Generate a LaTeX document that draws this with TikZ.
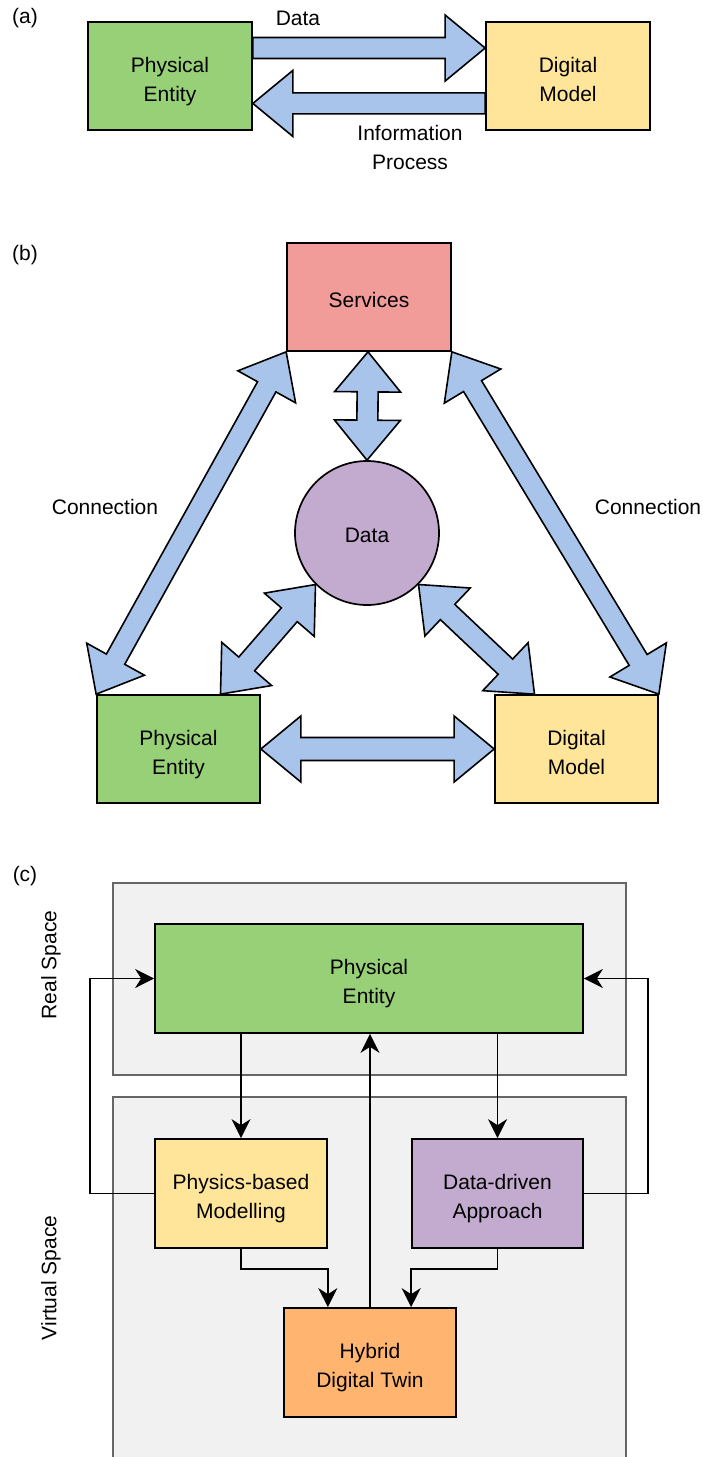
\documentclass[tikz,border=0pt]{standalone}
\usepackage{fontspec}
\setmainfont{Liberation Sans}
\usetikzlibrary{calc,arrows.meta}
\definecolor{cgreen}{HTML}{97D077}
\definecolor{cyellow}{HTML}{FFE599}
\definecolor{cred}{HTML}{F19C99}
\definecolor{cpurple}{HTML}{C3ABD0}
\definecolor{corange}{HTML}{FFB570}
\definecolor{cblue}{HTML}{A9C4EB}
\definecolor{cgrayfill}{HTML}{F1F1F1}
\definecolor{cgrayline}{HTML}{666666}
\tikzset{
  txt/.style={inner sep=0pt, align=center, font=\fontsize{21}{29}\selectfont},
  box/.style={draw=black, line width=1.7pt, inner sep=0pt},
  boxtext/.style={label={[txt, yshift=-5.5pt]center:{#1\vphantom{y}}}},
  boxtextone/.style={label={[txt, yshift=-2.5pt]center:{#1}}},
  barrow/.style={draw=black, fill=cblue, line width=1.6pt, line join=miter},
  conn/.style={draw=black, line width=1.8pt, -{Stealth[length=19pt,width=19pt,inset=6pt]}},
  area/.style={draw=cgrayline, fill=cgrayfill, line width=1.6pt},
}
% single block arrow: #1 tail, #2 tip, #3 shaft half width, #4 head half width
\newcommand{\sblockarrow}[4]{%
  \coordinate (tB) at ($(#2)!40pt!(#1)$);
  \draw[barrow] ($(#1)!#3!90:(#2)$) -- ($(tB)!#3!-90:(#1)$) -- ($(tB)!#4!-90:(#1)$) -- (#2)
    -- ($(tB)!#4!90:(#1)$) -- ($(tB)!#3!90:(#1)$) -- ($(#1)!#3!-90:(#2)$) -- cycle;}
% double block arrow
\newcommand{\dblockarrow}[4]{%
  \coordinate (tA) at ($(#1)!40pt!(#2)$);
  \coordinate (tB) at ($(#2)!40pt!(#1)$);
  \draw[barrow] (#1) -- ($(tA)!#4!90:(#2)$) -- ($(tA)!#3!90:(#2)$) -- ($(tB)!#3!-90:(#1)$)
    -- ($(tB)!#4!-90:(#1)$) -- (#2) -- ($(tB)!#4!90:(#1)$) -- ($(tB)!#3!90:(#1)$)
    -- ($(tA)!#3!-90:(#2)$) -- ($(tA)!#4!-90:(#2)$) -- cycle;}
\begin{document}
\begin{tikzpicture}[x=1pt,y=-1pt]
\useasboundingbox (0,0) rectangle (702,1457);
\clip (0,0) rectangle (702,1457);
\fill[white] (0,0) rectangle (702,1457);

% ---------------- (a)
\node[txt] (la) at (25,18) {(a)};
\node[box, fill=cgreen, minimum width=164pt, minimum height=108pt, boxtext={Physical\\Entity}] (pea) at (170,76) {};
\node[box, fill=cyellow, minimum width=164pt, minimum height=108pt, boxtext={Digital\\Model}] (dma) at (568,76) {};
\coordinate (a1) at ($(pea.north east)!0.245!(pea.south east)$);
\coordinate (a2) at ($(dma.north west)!0.245!(dma.south west)$);
\coordinate (a3) at ($(dma.north west)!0.75!(dma.south west)$);
\coordinate (a4) at ($(pea.north east)!0.75!(pea.south east)$);
\sblockarrow{a1}{a2}{10.5pt}{33pt}
\sblockarrow{a3}{a4}{10.5pt}{33pt}
\node[txt] (ldata) at (298,18) {Data};
\node[txt] (linfo) at (410,147) {Information\\Process};

% ---------------- (b)
\node[txt] (lb) at (25,255) {(b)};
\node[box, fill=cred, minimum width=164pt, minimum height=108pt, boxtextone={Services}] (serv) at (369,297) {};
\node[box, fill=cpurple, circle, minimum size=144pt, boxtextone={Data}] (data) at (367,533) {};
\node[box, fill=cgreen, minimum width=163pt, minimum height=108pt, boxtext={Physical\\Entity}] (peb) at (178.5,749) {};
\node[box, fill=cyellow, minimum width=163pt, minimum height=108pt, boxtext={Digital\\Model}] (dmb) at (576.5,749) {};
\coordinate (b1) at ($(serv.south)+(-1,0)$);
\dblockarrow{b1}{data.north}{10.5pt}{33pt}
\dblockarrow{serv.south west}{peb.north west}{10.5pt}{33pt}
\dblockarrow{serv.south east}{dmb.north east}{10.5pt}{33pt}
\coordinate (b2) at ($(peb.north west)!0.755!(peb.north east)$);
\coordinate (b3) at ($(dmb.north west)!0.245!(dmb.north east)$);
\dblockarrow{data.225}{b2}{10.5pt}{33pt}
\dblockarrow{data.315}{b3}{10.5pt}{33pt}
\dblockarrow{peb.east}{dmb.west}{11.5pt}{33pt}
\node[txt] (lc1) at (105,507) {Connection};
\node[txt] (lc2) at (648,507) {Connection};

% ---------------- (c)
\node[txt] (lc) at (25,876) {(c)};
\draw[area] (113,883) rectangle (626,1075);
\draw[area] (113,1097) rectangle (626,1490);
\node[txt, rotate=90] (lreal) at (51,965) {Real Space};
\node[txt, rotate=90] (lvirt) at (51,1278) {Virtual Space};
\node[box, fill=cgreen, minimum width=428pt, minimum height=109pt, boxtext={Physical\\Entity}] (pec) at (369,978.5) {};
\node[box, fill=cyellow, minimum width=172pt, minimum height=109pt, boxtext={Physics-based\\Modelling}] (pbm) at (241,1193.5) {};
\node[box, fill=cpurple, minimum width=171pt, minimum height=109pt, boxtext={Data-driven\\Approach}] (dda) at (497.5,1193.5) {};
\node[box, fill=corange, minimum width=172pt, minimum height=109pt, boxtext={Hybrid\\Digital Twin}] (hdt) at (370,1362.5) {};
\draw[conn] (pbm.north |- pec.south) -- (pbm.north);
\draw[conn] (dda.north |- pec.south) -- (dda.north);
\draw[conn] (pbm.south) -- ++(0,20) -| (hdt.north -| pbm.east);
\draw[conn] (dda.south) -- ++(0,20) -| (hdt.north -| dda.west);
\draw[conn] (hdt.north) -- (hdt.north |- pec.south);
\draw[conn] (pbm.west) -- ++(-64,0) |- (pec.west);
\draw[conn] (dda.east) -- ++(64,0) |- (pec.east);
\end{tikzpicture}
\end{document}
